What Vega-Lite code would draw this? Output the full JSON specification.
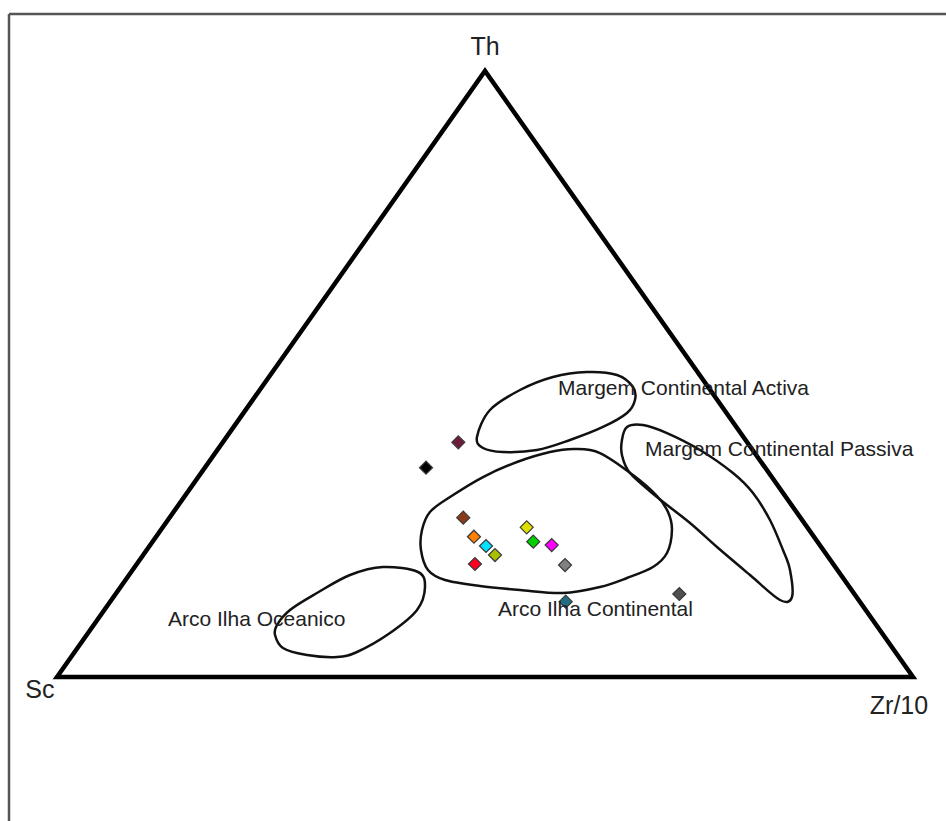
{
  "$schema": "https://vega.github.io/schema/vega-lite/v6.json",
  "width": 946,
  "height": 821,
  "autosize": {"type": "none"},
  "padding": 0,
  "background": "white",
  "config": {"view": {"stroke": null}},
  "datasets": {
    "frame": [
      {"x": -5.607, "x2": 103.855, "y": 109.4, "y2": 109.4},
      {"x": -5.607, "x2": -5.607, "y": 109.4, "y2": -23.76}
    ],
    "triangle": [
      {"i": 0, "x": 0, "y": 0},
      {"i": 1, "x": 100, "y": 0},
      {"i": 2, "x": 50, "y": 100}
    ],
    "fields": [
      {"field": "Oceanico", "i": 0, "x": 38.08, "y": 18.15},
      {"field": "Oceanico", "i": 1, "x": 42.17, "y": 17.33},
      {"field": "Oceanico", "i": 2, "x": 42.99, "y": 14.85},
      {"field": "Oceanico", "i": 3, "x": 42.06, "y": 11.06},
      {"field": "Oceanico", "i": 4, "x": 38.90, "y": 7.26},
      {"field": "Oceanico", "i": 5, "x": 35.05, "y": 4.13},
      {"field": "Oceanico", "i": 6, "x": 32.71, "y": 3.30},
      {"field": "Oceanico", "i": 7, "x": 29.21, "y": 3.63},
      {"field": "Oceanico", "i": 8, "x": 26.40, "y": 4.79},
      {"field": "Oceanico", "i": 9, "x": 25.47, "y": 6.93},
      {"field": "Oceanico", "i": 10, "x": 25.70, "y": 8.58},
      {"field": "Oceanico", "i": 11, "x": 27.22, "y": 11.06},
      {"field": "Oceanico", "i": 12, "x": 30.37, "y": 13.86},
      {"field": "Oceanico", "i": 13, "x": 34.23, "y": 16.83},

      {"field": "Continental", "i": 0, "x": 60.51, "y": 37.62},
      {"field": "Continental", "i": 1, "x": 63.43, "y": 36.96},
      {"field": "Continental", "i": 2, "x": 67.29, "y": 33.33},
      {"field": "Continental", "i": 3, "x": 70.09, "y": 29.87},
      {"field": "Continental", "i": 4, "x": 71.38, "y": 27.23},
      {"field": "Continental", "i": 5, "x": 71.84, "y": 24.26},
      {"field": "Continental", "i": 6, "x": 71.26, "y": 20.46},
      {"field": "Continental", "i": 7, "x": 69.62, "y": 18.15},
      {"field": "Continental", "i": 8, "x": 66.59, "y": 16.34},
      {"field": "Continental", "i": 9, "x": 63.43, "y": 14.85},
      {"field": "Continental", "i": 10, "x": 59.11, "y": 13.86},
      {"field": "Continental", "i": 11, "x": 54.09, "y": 14.36},
      {"field": "Continental", "i": 12, "x": 49.41, "y": 15.02},
      {"field": "Continental", "i": 13, "x": 45.33, "y": 16.01},
      {"field": "Continental", "i": 14, "x": 43.34, "y": 17.66},
      {"field": "Continental", "i": 15, "x": 42.52, "y": 20.96},
      {"field": "Continental", "i": 16, "x": 42.64, "y": 24.26},
      {"field": "Continental", "i": 17, "x": 43.57, "y": 27.23},
      {"field": "Continental", "i": 18, "x": 45.91, "y": 29.70},
      {"field": "Continental", "i": 19, "x": 49.77, "y": 33.00},
      {"field": "Continental", "i": 20, "x": 53.74, "y": 35.48},
      {"field": "Continental", "i": 21, "x": 57.59, "y": 37.13},

      {"field": "Activa", "i": 0, "x": 49.06, "y": 39.60},
      {"field": "Activa", "i": 1, "x": 50.58, "y": 44.06},
      {"field": "Activa", "i": 2, "x": 54.09, "y": 47.36},
      {"field": "Activa", "i": 3, "x": 57.94, "y": 49.51},
      {"field": "Activa", "i": 4, "x": 61.91, "y": 50.33},
      {"field": "Activa", "i": 5, "x": 65.42, "y": 49.84},
      {"field": "Activa", "i": 6, "x": 67.29, "y": 47.86},
      {"field": "Activa", "i": 7, "x": 67.52, "y": 45.71},
      {"field": "Activa", "i": 8, "x": 66.59, "y": 43.57},
      {"field": "Activa", "i": 9, "x": 63.78, "y": 41.26},
      {"field": "Activa", "i": 10, "x": 59.93, "y": 39.11},
      {"field": "Activa", "i": 11, "x": 56.07, "y": 37.46},
      {"field": "Activa", "i": 12, "x": 52.10, "y": 37.13},
      {"field": "Activa", "i": 13, "x": 49.77, "y": 37.79},

      {"field": "Passiva", "i": 0, "x": 66.59, "y": 41.26},
      {"field": "Passiva", "i": 1, "x": 68.46, "y": 41.59},
      {"field": "Passiva", "i": 2, "x": 71.26, "y": 40.26},
      {"field": "Passiva", "i": 3, "x": 75.12, "y": 37.46},
      {"field": "Passiva", "i": 4, "x": 78.97, "y": 33.66},
      {"field": "Passiva", "i": 5, "x": 81.31, "y": 30.36},
      {"field": "Passiva", "i": 6, "x": 83.29, "y": 25.91},
      {"field": "Passiva", "i": 7, "x": 84.81, "y": 20.96},
      {"field": "Passiva", "i": 8, "x": 85.63, "y": 17.66},
      {"field": "Passiva", "i": 9, "x": 85.86, "y": 13.20},
      {"field": "Passiva", "i": 10, "x": 84.46, "y": 12.71},
      {"field": "Passiva", "i": 11, "x": 80.96, "y": 16.83},
      {"field": "Passiva", "i": 12, "x": 77.10, "y": 21.45},
      {"field": "Passiva", "i": 13, "x": 73.95, "y": 25.41},
      {"field": "Passiva", "i": 14, "x": 70.09, "y": 29.70},
      {"field": "Passiva", "i": 15, "x": 66.94, "y": 33.66},
      {"field": "Passiva", "i": 16, "x": 66.00, "y": 36.63},
      {"field": "Passiva", "i": 17, "x": 66.00, "y": 39.11}
    ],
    "samples": [
      {"sample": "s1", "x": 46.88, "y": 38.73},
      {"sample": "s2", "x": 43.11, "y": 34.54},
      {"sample": "s3", "x": 47.46, "y": 26.29},
      {"sample": "s4", "x": 48.71, "y": 23.15},
      {"sample": "s5", "x": 50.12, "y": 21.62},
      {"sample": "s6", "x": 51.17, "y": 20.13},
      {"sample": "s7", "x": 48.83, "y": 18.65},
      {"sample": "s8", "x": 54.87, "y": 24.70},
      {"sample": "s9", "x": 55.64, "y": 22.33},
      {"sample": "s10", "x": 57.79, "y": 21.78},
      {"sample": "s11", "x": 59.35, "y": 18.48},
      {"sample": "s12", "x": 59.43, "y": 12.43},
      {"sample": "s13", "x": 72.70, "y": 13.70}
    ],
    "vertexLabels": [
      {"label": "Th", "x": 50, "y": 103.96},
      {"label": "Sc", "x": -1.99, "y": -2.15},
      {"label": "Zr/10", "x": 98.36, "y": -4.79}
    ],
    "fieldLabels": [
      {"label": "Margem Continental Activa", "x": 58.53, "y": 47.52},
      {"label": "Margem Continental Passiva", "x": 68.69, "y": 37.46},
      {"label": "Arco Ilha Oceanico", "x": 12.97, "y": 9.41},
      {"label": "Arco Ilha Continental", "x": 51.52, "y": 11.06}
    ]
  },
  "layer": [
    {
      "data": {"name": "frame"},
      "mark": {"type": "rule", "color": "#555555", "strokeWidth": 2.5},
      "encoding": {
        "x": {"field": "x", "type": "quantitative", "scale": {"domain": [-6.659, 103.855], "nice": false, "zero": false}, "axis": null},
        "x2": {"field": "x2"},
        "y": {"field": "y", "type": "quantitative", "scale": {"domain": [-23.76, 111.72], "nice": false, "zero": false}, "axis": null},
        "y2": {"field": "y2"}
      }
    },
    {
      "data": {"name": "fields"},
      "mark": {"type": "line", "interpolate": "cardinal-closed", "color": "#111111", "strokeWidth": 2.5},
      "encoding": {
        "x": {"field": "x", "type": "quantitative"},
        "y": {"field": "y", "type": "quantitative"},
        "detail": {"field": "field", "type": "nominal"},
        "order": {"field": "i", "type": "quantitative"}
      }
    },
    {
      "data": {"name": "triangle"},
      "mark": {"type": "line", "interpolate": "linear-closed", "color": "#000000", "strokeWidth": 4.5, "strokeJoin": "miter"},
      "encoding": {
        "x": {"field": "x", "type": "quantitative"},
        "y": {"field": "y", "type": "quantitative"},
        "order": {"field": "i", "type": "quantitative"}
      }
    },
    {
      "data": {"name": "samples"},
      "mark": {"type": "point", "shape": "diamond", "filled": true, "size": 170, "opacity": 1, "stroke": "#3a3a3a", "strokeWidth": 1.2},
      "encoding": {
        "x": {"field": "x", "type": "quantitative"},
        "y": {"field": "y", "type": "quantitative"},
        "color": {
          "field": "sample", "type": "nominal", "legend": null,
          "scale": {
            "domain": ["s1", "s2", "s3", "s4", "s5", "s6", "s7", "s8", "s9", "s10", "s11", "s12", "s13"],
            "range": ["#6e1c3c", "#000000", "#8b3a1a", "#ff8000", "#00e0ff", "#a8c000", "#ff0020", "#e0e000", "#00d000", "#ff00ff", "#808080", "#1f6f80", "#505050"]
          }
        }
      }
    },
    {
      "data": {"name": "vertexLabels"},
      "mark": {"type": "text", "font": "Liberation Sans", "fontSize": 25, "color": "#222222", "align": "center", "baseline": "middle"},
      "encoding": {
        "x": {"field": "x", "type": "quantitative"},
        "y": {"field": "y", "type": "quantitative"},
        "text": {"field": "label"}
      }
    },
    {
      "data": {"name": "fieldLabels"},
      "mark": {"type": "text", "font": "Liberation Sans", "fontSize": 21, "color": "#222222", "align": "left", "baseline": "middle"},
      "encoding": {
        "x": {"field": "x", "type": "quantitative"},
        "y": {"field": "y", "type": "quantitative"},
        "text": {"field": "label"}
      }
    }
  ]
}
